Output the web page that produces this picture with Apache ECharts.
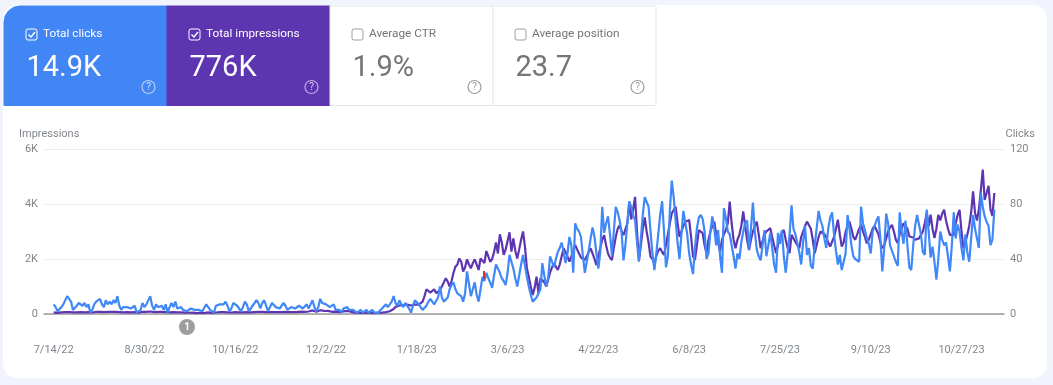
<!DOCTYPE html>
<html>
<head>
<meta charset="utf-8">
<title>Search performance</title>
<script src="https://cdn.jsdelivr.net/npm/echarts@6/dist/echarts.min.js"></script>
<style>
html, body { margin: 0; padding: 0; background: #f1f4fd; }
#chart { width: 1053px; height: 385px; }
</style>
</head>
<body>
<div id="chart"></div>
<script>
var startDate = [2022, 6, 14];
var tickStep = 47;
var padDays = 5;

var clicks = [
  7,5,2,1,5,7,8,13,12,9,3,4,6,8,7,6,8,5,7,1,
  3,7,9,9,11,7,5,10,7,9,7,10,8,13,6,3,5,5,5,4,
  4,5,6,1,1,3,8,5,7,8,13,6,3,7,5,4,6,3,7,1,
  5,8,5,9,4,5,5,3,4,2,3,4,4,3,2,3,4,2,1,7,
  6,3,2,1,6,6,7,6,7,9,6,2,4,8,7,6,5,2,5,9,
  7,2,3,6,6,10,8,4,8,10,6,2,5,8,7,5,5,4,6,8,
  6,3,4,5,5,4,4,6,6,4,5,7,4,7,10,5,2,5,11,8,
  8,7,8,5,5,7,3,4,3,1,4,5,5,3,2,3,2,1,2,3,
  1,1,3,1,2,3,1,1,1,2,4,5,7,5,4,9,13,8,6,10,
  7,5,8,7,4,1,6,10,10,7,5,3,4,6,9,11,9,7,8,12,
  20,12,9,8,12,18,21,23,18,15,16,13,9,15,31,22,13,18,23,14,
  9,18,27,24,30,26,23,19,28,36,33,30,26,24,21,30,43,38,33,26,
  20,28,36,43,35,27,20,14,9,10,12,11,18,37,28,20,26,42,38,34,
  40,45,48,52,45,37,44,56,50,30,66,62,60,56,42,30,38,46,55,63,
  56,44,33,45,78,59,66,71,58,43,60,78,74,68,60,39,50,66,82,78,
  72,68,52,38,55,72,85,86,78,60,44,32,44,58,72,82,60,34,42,75,
  97,85,68,52,40,58,75,74,58,44,36,29,48,62,70,72,69,60,40,44,
  60,71,62,50,61,42,30,77,70,60,58,50,42,33,44,40,52,60,66,68,
  47,62,81,60,47,42,39,50,61,42,50,59,48,36,30,59,51,61,42,30,
  30,58,79,62,58,59,45,36,52,64,43,48,35,33,50,62,75,68,64,55,
  48,62,70,74,58,46,36,43,32,38,44,72,62,50,42,40,39,38,78,66,
  61,55,51,44,60,64,68,71,55,31,48,73,66,50,46,42,38,35,74,60,
  51,68,50,34,32,50,64,72,72,58,45,43,76,60,41,49,38,25,40,60,
  54,50,52,42,31,50,74,55,65,60,48,39,58,45,38,55,72,62,55,48,
  88,78,71,67,64,50,54,76
];

var impressions = [
  60,55,40,45,60,65,70,75,70,70,60,55,60,65,70,65,60,70,65,50,
  55,70,75,80,80,75,70,80,75,85,75,85,80,90,70,60,60,70,65,60,
  60,65,70,45,45,65,80,70,80,85,90,75,70,80,75,70,75,65,70,50,
  60,70,65,75,60,65,60,55,50,40,45,50,50,40,35,40,45,40,35,55,
  60,50,40,35,55,60,65,60,65,75,60,50,55,70,70,65,60,55,60,75,
  70,55,60,65,70,80,75,65,75,85,70,60,65,75,70,65,70,60,70,75,
  75,60,65,70,65,60,70,80,85,75,80,100,90,110,130,100,85,95,140,120,
  110,100,115,85,80,110,85,90,70,60,95,120,115,90,80,60,50,55,45,50,
  40,35,50,40,45,50,35,40,45,50,50,60,70,90,100,130,180,260,330,310,
  340,320,300,340,330,310,350,340,320,340,330,450,650,900,850,780,800,900,760,730,
  870,1000,1150,1300,1180,1000,1200,1500,1720,1800,2020,1900,1540,1700,1990,1800,1660,1850,1990,1800,
  1600,2020,1950,1850,2290,2100,1900,2000,2250,2600,2200,2900,2600,2150,2350,2650,2970,2270,2750,2300,
  2020,2350,2700,3000,2450,1660,1350,1000,690,950,1360,750,1300,1320,1150,1000,1250,1500,1700,1840,
  1800,1600,1800,2100,2390,2250,2100,1900,2100,2300,2510,2350,2200,2050,1980,1960,2100,2250,2390,2200,
  2000,1780,2100,2400,2700,2870,2500,2200,2050,1960,2400,2800,3100,3230,3000,2870,2870,3300,4080,3440,
  3800,4260,3000,1960,2500,3100,3510,3000,2600,2080,2000,1840,2100,2300,2390,2250,2150,2500,2900,3300,
  3660,3780,3900,3300,2810,3000,3200,3350,3400,3420,2800,2100,1960,2500,3050,3000,2940,2500,2210,2700,
  3000,3200,3360,2900,2600,2270,2700,2900,3060,3300,4090,3300,2700,2390,2700,2880,3200,3730,3200,2700,
  2330,2700,3000,3200,3360,2900,2390,2650,2900,3000,3050,3120,2800,2500,2210,2500,2800,2950,3060,2700,
  2400,2210,2880,2750,2700,2500,2390,2800,3000,3200,3360,3400,3100,2700,2210,2500,2800,3000,3000,2900,
  2800,2600,2450,2400,2800,3100,3430,2900,2450,2600,3000,3200,3360,3100,2800,2700,2900,3100,3240,3000,
  2800,2570,2700,2900,3100,3200,3240,2900,2600,2390,2500,2750,3000,3150,3240,3000,2700,2570,2900,3100,
  3300,3360,3100,2820,2800,2780,2700,2720,2750,2700,3000,3300,3670,3200,3610,3100,2760,3100,3610,3400,
  3650,3790,3400,3100,2880,2880,2880,3300,3600,3790,3000,2390,2600,2880,3200,3700,4460,3670,3400,3800,
  4500,5250,4150,4400,4660,3800,3570,4400
];

var tileLabels = ['Total clicks', 'Total impressions', 'Average CTR', 'Average position'];
var tileValues = ['14.9K', '776K', '1.9%', '23.7'];
var tileColors = ['#4285f4', '#5e35b1', '#ffffff', '#ffffff'];
var tileChecked = [true, true, false, false];

var blue = '#4088f8';
var purple = '#5e35b1';
var font = 'Roboto, sans-serif';

function pad(list) {
    var gap = [];
    for (var i = 0; i < padDays; i++) gap.push(null);
    return gap.concat(list, gap);
}

var dates = [];
for (var i = 0; i < clicks.length + padDays * 2; i++) {
    var d = new Date(startDate[0], startDate[1], startDate[2] + i - padDays);
    dates.push((d.getMonth() + 1) + '/' + d.getDate() + '/' + String(d.getFullYear()).slice(2));
}

function isTick(index) {
    return index >= padDays && (index - padDays) % tickStep === 0;
}

var graphics = [
    { type: 'rect', z: -10, shape: { x: 3, y: 5, width: 1044, height: 373, r: 14 }, style: { fill: '#ffffff' } }
];

tileLabels.forEach(function(label, i) {
    var left = 4 + i * 163;
    var filled = tileColors[i] !== '#ffffff';
    var ink = filled ? '#ffffff' : '#757575';
    graphics.push({
        type: 'rect', z: -9,
        shape: { x: left, y: 6, width: 163, height: 99.5, r: i === 0 ? [16, 0, 0, 0] : 0 },
        style: { fill: tileColors[i], stroke: filled ? tileColors[i] : '#e4e6ea', lineWidth: 1 }
    });
    graphics.push({
        type: 'rect', z: 5,
        shape: { x: left + 22, y: 29, width: 11, height: 11, r: 2 },
        style: { fill: 'transparent', stroke: filled ? '#ffffff' : '#9e9e9e', lineWidth: 1 }
    });
    if (tileChecked[i]) {
        graphics.push({
            type: 'polyline', z: 5,
            shape: { points: [[left + 24.5, 34.5], [left + 27, 37], [left + 31, 32]] },
            style: { stroke: '#ffffff', lineWidth: 1.4, fill: 'none' }
        });
    }
    graphics.push({
        type: 'text', z: 5, x: left + 39, y: 34.5,
        style: { text: label, fill: ink, font: '11.8px ' + font, textVerticalAlign: 'middle' }
    });
    graphics.push({
        type: 'text', z: 5, x: left + 22.5, y: 69,
        style: { text: tileValues[i], fill: ink, font: '29px ' + font, textVerticalAlign: 'middle' }
    });
    graphics.push({
        type: 'circle', z: 5,
        shape: { cx: left + 144.5, cy: 87, r: 6.5 },
        style: { fill: 'transparent', stroke: filled ? 'rgba(255,255,255,0.6)' : '#9e9e9e', lineWidth: 1.2 }
    });
    graphics.push({
        type: 'text', z: 5, x: left + 144.5, y: 87,
        style: {
            text: '?', fill: filled ? 'rgba(255,255,255,0.75)' : '#9e9e9e', font: '10px ' + font,
            textAlign: 'center', textVerticalAlign: 'middle'
        }
    });
});

// annotation marker under the axis and the small red tick on the line
graphics.push({ type: 'circle', z: 6, shape: { cx: 187, cy: 327, r: 8 }, style: { fill: '#9e9e9e' } });
graphics.push({
    type: 'text', z: 7, x: 187, y: 327,
    style: { text: '1', fill: '#ffffff', font: 'bold 10px ' + font, textAlign: 'center', textVerticalAlign: 'middle' }
});
graphics.push({ type: 'rect', z: 20, shape: { x: 483, y: 271, width: 2, height: 8 }, style: { fill: '#d93025' } });

var chart = echarts.init(document.getElementById('chart'));

chart.setOption({
    animation: false,
    backgroundColor: '#f1f4fd',
    textStyle: { fontFamily: font },
    graphic: graphics,
    grid: { left: 44, top: 149, width: 960, height: 165, containLabel: false },
    xAxis: {
        type: 'category',
        data: dates,
        boundaryGap: false,
        axisTick: { show: false },
        axisLine: { onZero: false, lineStyle: { color: '#9a9a9a', width: 1.5 } },
        axisLabel: { interval: function(index) { return isTick(index); }, color: '#80868b', fontSize: 11, margin: 31, hideOverlap: false },
        splitLine: { show: false }
    },
    yAxis: [{
        type: 'value',
        name: 'Impressions',
        nameLocation: 'end',
        nameGap: 9,
        nameTextStyle: { color: '#80868b', fontSize: 11, align: 'left', padding: [0, 0, 0, -25] },
        min: 0,
        max: 6000,
        interval: 2000,
        axisLine: { show: false },
        axisTick: { show: false },
        axisLabel: {
            color: '#80868b', fontSize: 11, margin: 6, padding: [2, 0, 0, 0],
            formatter: function(v) { return v === 0 ? '0' : (v / 1000) + 'K'; }
        },
        splitLine: { lineStyle: { color: '#eeeeee', width: 1 } }
    }, {
        type: 'value',
        name: 'Clicks',
        nameLocation: 'end',
        nameGap: 9,
        nameTextStyle: { color: '#80868b', fontSize: 11, align: 'right', padding: [0, -31, 0, 0] },
        min: 0,
        max: 120,
        interval: 40,
        axisLine: { show: false },
        axisTick: { show: false },
        axisLabel: { color: '#80868b', fontSize: 11, margin: 6, padding: [2, 0, 0, 0] },
        splitLine: { show: false }
    }],
    series: [{
        name: 'Impressions',
        type: 'line',
        yAxisIndex: 0,
        data: pad(impressions),
        showSymbol: false,
        lineStyle: { color: purple, width: 2.2 },
        z: 3
    }, {
        name: 'Clicks',
        type: 'line',
        yAxisIndex: 1,
        data: pad(clicks),
        showSymbol: false,
        lineStyle: { color: blue, width: 2.2 },
        z: 4
    }]
});
</script>
</body>
</html>
